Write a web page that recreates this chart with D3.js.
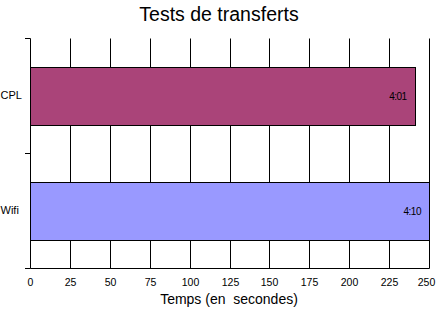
<!DOCTYPE html>
<html><head><meta charset="utf-8">
<script src="https://cdn.jsdelivr.net/npm/d3@7"></script>
<style>body{margin:0;background:#fff}text{font-family:"Liberation Sans",Arial,sans-serif}</style>
</head><body><svg id="c" width="436" height="317"></svg>
<script>
const categories = ["CPL", "Wifi"];
const values = [241, 250];
const valueLabels = ["4:01", "4:10"];
const colors = ["#AA4479", "#9999FF"];
const xTicks = [0, 25, 50, 75, 100, 125, 150, 175, 200, 225, 250];
const title = "Tests de transferts";
const xTitle = "Temps (en  secondes)";

const svg = d3.select("#c");
const mLeft = 30, mRight = 429, mTop = 38, mBottom = 268;
const x = d3.scaleLinear().domain([0, 250]).range([mLeft, mRight]);
const y = d3.scaleBand().domain(categories).range([mTop, mBottom]).paddingInner(0.5).paddingOuter(0.25);
const px = v => Math.round(x(v)) + 0.5;

svg.append("text").attr("x", 219).attr("y", 21).attr("text-anchor", "middle")
  .attr("font-size", 19.5).text(title);

// vertical gridlines
svg.append("g").selectAll("line").data(xTicks).join("line")
  .attr("x1", px).attr("x2", px)
  .attr("y1", mTop + 0.5).attr("y2", mBottom + 0.5).attr("stroke", "#000").attr("stroke-width", 1);

// bars
svg.append("g").selectAll("rect").data(categories).join("rect")
  .attr("x", px(0)).attr("y", d => Math.round(y(d)) + 0.5)
  .attr("width", (d, i) => px(values[i]) - px(0))
  .attr("height", Math.round(y.bandwidth()))
  .attr("fill", (d, i) => colors[i]).attr("stroke", "#000").attr("stroke-width", 1);

// value labels
svg.append("g").selectAll("text").data(categories).join("text")
  .attr("x", (d, i) => x(values[i]) - 8).attr("y", d => y(d) + y.bandwidth() / 2 + 4)
  .attr("text-anchor", "end").attr("font-size", 10).attr("letter-spacing", -0.5)
  .text((d, i) => valueLabels[i]);

// x axis
const xAxis = d3.axisBottom(x).tickValues(xTicks).tickSize(0).tickPadding(10);
const gx = svg.append("g").attr("transform", `translate(0,${mBottom + 0.5})`).call(xAxis);
gx.select(".domain").attr("stroke", "#000").attr("d", `M${px(0)},0H${px(250)}`);
gx.selectAll("text").attr("font-size", 10.5).attr("font-family", "Liberation Sans, Arial, sans-serif").attr("fill", "#000")
  .attr("dx", d => d === 250 ? -3 : 0);
gx.selectAll(".tick").attr("transform", d => `translate(${px(d)},0)`);

// y axis
const yAxis = d3.axisLeft(y).tickSize(0).tickPadding(10);
const gy = svg.append("g").attr("transform", `translate(${mLeft},0)`).call(yAxis);
gy.select(".domain").remove();
gy.selectAll("text").attr("font-size", 11).attr("font-family", "Liberation Sans, Arial, sans-serif").attr("fill", "#000")
  .attr("text-anchor", "start").attr("x", -29.5);
// y boundary ticks
const bounds = [mTop, (mTop + mBottom) / 2, mBottom];
svg.append("g").selectAll("line").data(bounds).join("line")
  .attr("x1", mLeft - 5).attr("x2", px(0)).attr("y1", d => Math.round(d) + 0.5).attr("y2", d => Math.round(d) + 0.5)
  .attr("stroke", "#000");

svg.append("text").attr("x", 229).attr("y", 304).attr("text-anchor", "middle")
  .attr("font-size", 14).attr("xml:space", "preserve").style("white-space", "pre").text(xTitle);
</script></body></html>
